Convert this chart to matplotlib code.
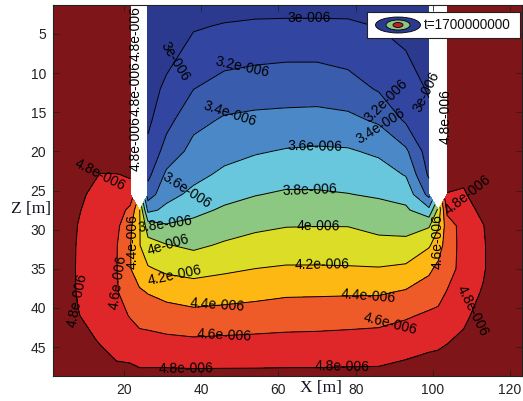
import numpy as np
import matplotlib
matplotlib.use("Agg")
import matplotlib.pyplot as plt
from matplotlib.patches import Ellipse

plt.rcParams["font.family"] = ["Liberation Sans", "DejaVu Sans"]

# grid nodes: X [m] across, Z [m] down
x_nodes = [1.5, 8, 14, 18, 21.6, 24, 26.2, 31, 38, 46, 54, 62, 70, 78, 86,
           93, 99, 101.4, 103.7, 108, 113, 118, 123.5]
z_nodes = [1, 4, 8, 12, 16, 20, 23, 25.5, 27.5, 29.5, 32, 35, 38, 41, 44, 46.5, 49]

# value at each node (units of 1e-6), one list per x node, top to bottom
# nan = inside the two walls (drawn white)
nan = np.nan
v_x1_5 = [5, 5, 5, 5, 5, 5, 5, 5, 5, 5, 5, 5, 5, 5, 5, 5, 5]
v_x8 = [5, 5, 5, 5, 5, 5, 4.9, 4.835, 4.815, 4.798, 4.785, 4.78, 4.785, 4.81, 4.9, 4.97, 5]
v_x14 = [5, 5, 5, 5, 5, 4.95, 4.79, 4.74, 4.71, 4.69, 4.68, 4.68, 4.69, 4.71, 4.77, 4.86, 4.95]
v_x18 = [5, 5, 5, 5, 5, 5, 4.79, 4.74, 4.7, 4.65, 4.615, 4.61, 4.62, 4.66, 4.73, 4.79, 4.88]
v_x21_6 = [5, 5, 5, 5, 5, 5, 4.82, 4.72, 4.55, 4.44, 4.41, 4.41, 4.49, 4.59, 4.68, 4.78, 4.87]
v_x24 = [nan, nan, nan, nan, nan, nan, nan, nan, 4.22, 4.22, 4.21, 4.28, 4.43, 4.54, 4.65, 4.75, 4.86]
v_x26_2 = [2.75, 2.8, 2.85, 2.9, 2.96, 3.05, 3.15, 3.3, 3.55, 3.9, 4.07, 4.22, 4.39, 4.52, 4.65, 4.75, 4.86]
v_x31 = [2.7, 2.8, 2.94, 3.05, 3.14, 3.275, 3.44, 3.54, 3.645, 3.82, 4.01, 4.16, 4.335, 4.49, 4.63, 4.75, 4.86]
v_x38 = [2.9, 2.98, 3.09, 3.197, 3.34, 3.466, 3.55, 3.643, 3.75, 3.85, 3.964, 4.13, 4.297, 4.458, 4.615, 4.74, 4.86]
v_x46 = [2.91, 3.015, 3.14, 3.28, 3.423, 3.54, 3.637, 3.742, 3.826, 3.913, 4.024, 4.167, 4.318, 4.472, 4.624, 4.743, 4.86]
v_x54 = [2.93, 3.03, 3.166, 3.305, 3.445, 3.583, 3.696, 3.792, 3.877, 3.962, 4.07, 4.201, 4.343, 4.488, 4.632, 4.745, 4.86]
v_x62 = [2.93, 3.035, 3.18, 3.313, 3.456, 3.615, 3.728, 3.825, 3.908, 3.992, 4.095, 4.22, 4.37, 4.507, 4.64, 4.75, 4.86]
v_x70 = [2.93, 3.035, 3.18, 3.315, 3.464, 3.628, 3.731, 3.822, 3.909, 3.996, 4.096, 4.22, 4.374, 4.511, 4.645, 4.75, 4.86]
v_x78 = [2.94, 3.027, 3.146, 3.285, 3.445, 3.62, 3.72, 3.805, 3.9, 3.995, 4.094, 4.216, 4.378, 4.521, 4.654, 4.758, 4.86]
v_x86 = [2.93, 2.995, 3.087, 3.18, 3.372, 3.567, 3.685, 3.778, 3.86, 3.945, 4.06, 4.211, 4.378, 4.533, 4.665, 4.762, 4.86]
v_x93 = [2.88, 2.94, 3.017, 3.094, 3.171, 3.436, 3.59, 3.728, 3.833, 3.929, 4.059, 4.238, 4.421, 4.579, 4.7, 4.796, 4.89]
v_x99 = [2.8, 2.84, 2.9, 2.98, 3.05, 3.1, 3.17, 3.34, 3.65, 3.98, 4.18, 4.36, 4.5, 4.63, 4.74, 4.83, 4.92]
v_x101_4 = [nan, nan, nan, nan, nan, nan, nan, nan, 4.05, 4.18, 4.3, 4.45, 4.54, 4.64, 4.75, 4.84, 4.93]
v_x103_7 = [5, 5, 5, 5, 5, 5, 4.9, 4.79, 4.65, 4.5, 4.5, 4.52, 4.61, 4.7, 4.78, 4.86, 4.93]
v_x108 = [5, 5, 5, 5, 5, 5, 4.88, 4.76, 4.7, 4.68, 4.67, 4.67, 4.69, 4.75, 4.84, 4.92, 4.97]
v_x113 = [5, 5, 5, 5, 5, 5, 5, 5, 4.86, 4.79, 4.77, 4.77, 4.82, 4.9, 4.97, 5, 5]
v_x118 = [5, 5, 5, 5, 5, 5, 5, 5, 5, 5, 5, 5, 5, 5, 5, 5, 5]
v_x123_5 = [5, 5, 5, 5, 5, 5, 5, 5, 5, 5, 5, 5, 5, 5, 5, 5, 5]

line_levels = [3.0, 3.2, 3.4, 3.6, 3.8, 4.0, 4.2, 4.4, 4.6, 4.8]
fill_levels = [2.0] + line_levels + [6.0]
band_colors = ["#2B3A8E", "#3245A0", "#3A5CAC", "#4A88C8", "#68C6DD", "#8CC882",
               "#DBDD27", "#FDB814", "#EF5A29", "#DF2628", "#7E1518"]
time_label = "t=1700000000"

columns = [v_x1_5, v_x8, v_x14, v_x18, v_x21_6, v_x24, v_x26_2, v_x31, v_x38, v_x46,
           v_x54, v_x62, v_x70, v_x78, v_x86, v_x93, v_x99, v_x101_4, v_x103_7,
           v_x108, v_x113, v_x118, v_x123_5]
V = np.ma.masked_invalid(np.column_stack(columns))
X, Z = np.meshgrid(x_nodes, z_nodes)


def fmt_label(v):
    return f"{v:g}e-006"


fig = plt.figure(figsize=(5.23, 4.01), dpi=100)
ax = fig.add_axes([53 / 523, 1 - 376 / 401, 469 / 523, 371 / 401])

ax.contourf(X, Z, V, levels=fill_levels, colors=band_colors)
cs = ax.contour(X, Z, V, levels=line_levels, colors="black", linewidths=0.7)

# label spots roughly where the original put them
label_spots = [(68, 2.9), (30.6, 7.7), (96.7, 12.8), (50.8, 9.6), (86.3, 14.1),
               (48, 17), (84.2, 18.2), (69.5, 19.8), (36.3, 25), (68.2, 25.1),
               (30.6, 29.6), (70.3, 30), (31.1, 32.6), (71.3, 34.8), (33.2, 35.4),
               (83.2, 39.3), (44.1, 39.9), (89.7, 43.2), (46, 43.7), (17.2, 36.8),
               (7.3, 39), (76.5, 47.6), (36, 48), (111, 40.5), (14, 23.2),
               (107.6, 26)]
ax.clabel(cs, manual=label_spots, inline=False, fontsize=10, fmt=fmt_label)

# the labels MATLAB piled up along the wall edges
for zc in [5, 12, 19]:
    ax.text(23, zc, fmt_label(4.8), rotation=90, ha="center", va="center",
            fontsize=10, color="black")
ax.text(22.3, 31.5, fmt_label(4.4), rotation=90, ha="center", va="center",
        fontsize=10, color="black")
ax.text(103.2, 15.5, fmt_label(4.8), rotation=90, ha="center", va="center",
        fontsize=10, color="black")
ax.text(101.2, 31.5, fmt_label(4.6), rotation=90, ha="center", va="center",
        fontsize=10, color="black")

ax.set_xlim(1.6, 123.1)
ax.set_ylim(48.7, 1.3)
ax.set_xticks([20, 40, 60, 80, 100, 120])
ax.set_yticks([5, 10, 15, 20, 25, 30, 35, 40, 45])
ax.tick_params(direction="in", top=True, right=True, length=4, width=0.6,
               labelsize=10, labelcolor="#222222", color="#222222", pad=5)
for sp in ax.spines.values():
    sp.set_linewidth(0.8)
    sp.set_color("#222222")

fig.text(321 / 523, 1 - 388 / 401, "X [m]", ha="center", va="center",
         family="Liberation Serif", fontsize=12.5, color="#111122")
fig.text(31 / 523, 1 - 209 / 401, "Z [m]", ha="center", va="center",
         family="Liberation Serif", fontsize=12.5, color="#111122")

# legend box with the little contour icon
lg = fig.add_axes([367 / 523, 1 - 38 / 401, 153 / 523, 26 / 401])
lg.set_xlim(0, 153)
lg.set_ylim(0, 26)
lg.set_xticks([])
lg.set_yticks([])
for sp in lg.spines.values():
    sp.set_linewidth(0.8)
    sp.set_color("#222222")
lg.add_patch(Ellipse((31, 13), 45, 16, facecolor="#2B3A8E", edgecolor="black", lw=0.6))
lg.add_patch(Ellipse((31, 13), 24, 10, facecolor="#8CC882", edgecolor="black", lw=0.6))
lg.add_patch(Ellipse((31, 13), 10, 5, facecolor="#C0202A", edgecolor="black", lw=0.6))
lg.text(57, 13, time_label, va="center", ha="left", fontsize=9.8, color="#111111")

fig.savefig("out.png", dpi=100)
